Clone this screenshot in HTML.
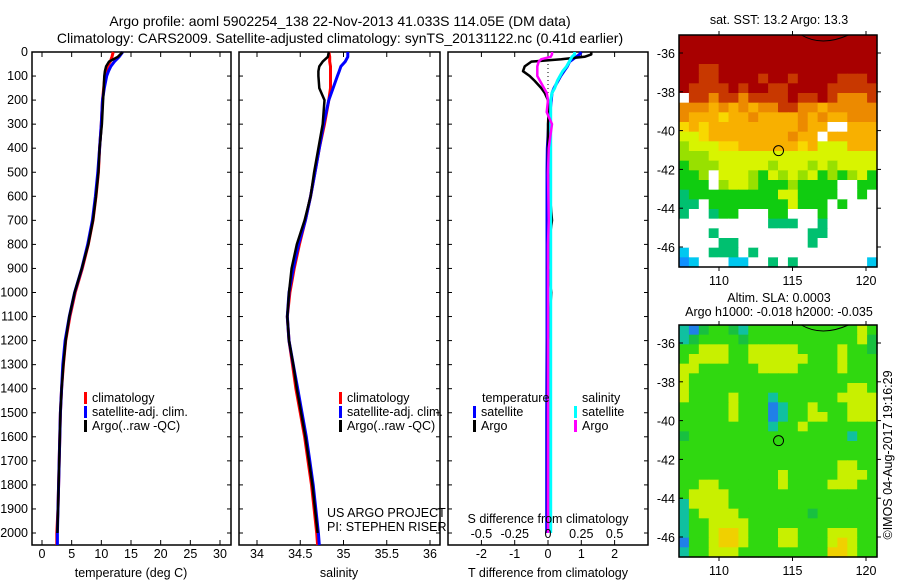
<!DOCTYPE html>
<html><head><meta charset="utf-8">
<style>
body{margin:0;background:#fff;}
svg{display:block;font-family:"Liberation Sans",sans-serif;}
text{font-size:12.5px;fill:#000;}
</style></head>
<body>
<svg id="chart" width="900" height="580" viewBox="0 0 900 580" xmlns="http://www.w3.org/2000/svg">
<rect width="900" height="580" fill="#fff"/>
<text x="340" y="26" text-anchor="middle" style="font-size:14px">Argo profile: aoml 5902254_138 22-Nov-2013 41.033S 114.05E (DM data)</text>
<text x="340" y="43" text-anchor="middle" style="font-size:14px">Climatology: CARS2009. Satellite-adjusted climatology: synTS_20131122.nc (0.41d earlier)</text>
<g id="g"></g>
</svg>
<script>
// ---------- data ----------
const depths = [0,20,40,60,80,100,150,200,300,400,500,600,700,800,900,1000,1100,1200,1300,1400,1500,1600,1700,1800,1900,2000,2050];
const tempClim = [12.0,11.8,11.5,11.0,10.8,10.6,10.4,10.2,10.0,9.7,9.5,9.1,8.6,7.8,6.8,5.6,4.7,4.0,3.6,3.3,3.1,3.0,2.9,2.8,2.7,2.5,2.5];
const tempSat = [13.6,13.0,12.2,11.6,11.2,10.9,10.5,10.2,10.0,9.7,9.4,9.0,8.5,7.7,6.7,5.5,4.6,3.9,3.5,3.3,3.1,3.0,2.9,2.8,2.7,2.6,2.6];
const tempArgo = [13.6,12.8,11.3,10.8,10.6,10.5,10.4,10.3,10.1,9.7,9.5,9.1,8.6,7.8,6.7,5.5,4.6,4.0,3.6,3.3,3.1,3.0,2.9,2.8,2.7,2.6];
const salClim = [34.83,34.84,34.84,34.85,34.85,34.85,34.85,34.83,34.78,34.72,34.67,34.62,34.56,34.49,34.43,34.38,34.35,34.37,34.41,34.45,34.50,34.55,34.59,34.63,34.66,34.69,34.70];
const salSat = [35.05,35.05,35.02,34.97,34.95,34.93,34.88,34.83,34.77,34.72,34.67,34.62,34.56,34.48,34.42,34.37,34.35,34.37,34.42,34.47,34.52,34.57,34.61,34.65,34.68,34.71,34.72];
const salArgo = [34.83,34.82,34.76,34.72,34.71,34.71,34.72,34.78,34.76,34.71,34.66,34.62,34.55,34.46,34.40,34.37,34.35,34.37,34.42,34.46,34.51,34.56,34.60,34.64,34.67,34.70];
const diffDepths = [0,10,20,30,40,60,80,100,120,150,170,200,250,300,400,500,700,800,900,1000,1200,1500,2000];
const tDiffSat = [1.0,0.95,0.85,0.75,0.65,0.58,0.48,0.38,0.3,0.18,0.12,0.1,0.06,0.02,-0.02,-0.03,-0.03,-0.03,-0.03,-0.03,-0.03,-0.04,-0.04];
const tDiffArgo = [1.3,1.3,1.1,0.4,-0.5,-0.7,-0.75,-0.55,-0.4,-0.2,-0.1,0,0.02,0,0,0,0.12,0.02,0,0.1,0,0,0];
const sDiffSat = [0.2,0.2,0.18,0.17,0.16,0.14,0.11,0.09,0.07,0.05,0.03,0.02,0.02,0.02,0.02,0.02,0.02,0.02,0.02,0.02,0.02,0.02,0.02];
const sDiffArgo = [0.03,0.03,0.02,-0.05,-0.07,-0.08,-0.08,-0.08,-0.06,-0.03,-0.01,0,-0.01,0.03,0.005,0,0.005,0,0,0,0,0,0];
const depthTicks = [0,100,200,300,400,500,600,700,800,900,1000,1100,1200,1300,1400,1500,1600,1700,1800,1900,2000];
const tempTicks = [0,5,10,15,20,25,30];
const salTicks = [34,34.5,35,35.5,36];
const salTickLabels = ["34","34.5","35","35.5","36"];
const tdTicks = [-2,-1,0,1,2];
const sdTicks = [-0.5,-0.25,0,0.25,0.5];
const sdTickLabels = ["-0.5","-0.25","0","0.25","0.5"];
const lonTicks = [110,115,120];
const latTicks = [-36,-38,-40,-42,-44,-46];
const sstGrid = [
"RRRRRRRRRRRRRRRRRRRR","RRRRRRRRRRRRRRRRRRRR","RRRRRRRRRRRRRRRRRRRR","RRrrRRRRRRRRRRRRRRRR",
"RRrrRRRRrRRrRRRRrrrR","RrrrrRrRRrrRRRRrrrrr","wrrorrorrrrRrrRrooor","oooOoOoOoorrooOooooo",
"oOOOyOOoOOOOoOoOOooo","yOyOOOOOOOOOoOOwwOOO","YYyOOOOOOOOoOOwOOOOO","gYYYyyOOOOOOyOYYYOOO",
"gggYYYYYYYYYYYYYYYYY","GgggYYYYYgYYYgYgYYYY","GGgwYYYgGYgYgYGgGgYG","GGGwgYYgGGGgGGGGwwGG",
"tGGGGGGGGGYYGGGGwwGw","ttwGGGGGGGGYGGGwGwww","twwtGGwwwGGwwwGwwwww","wwwwwwwwwtttwwtwwwww",
"wwwtwwwwwwwwwttwwwww","wwwwttwwwwwwwtwwwwww","bwwtttwtwwwwwwwwwwww","Bbwwwbbwwtwtwwwwwwwb"];
const slaGrid = [
"cbdGGdcGGGGGGGGGGGyG","cdGGGGdGGGGGGGGGGGyd","GGyyyGGyyyyyGGGGyGGd","GyyyyGGyyyyyyGGGyGGG",
"yyGGGGGGyyyyGGGGyGGG","yGGGGGGGGGGGGGGGGGGG","yGGGGGGGGGGGGGGGGyyG","yGGGGyGGGcGGGGGGyyyy",
"GGGGGyGGGbcGGyGGGyyy","GGGGGyGGGbcGGyyGGyyy","GGGGGGGGGcGGyGGGGGGG","dGGGGGGGGGGGGGGGGcGG",
"GGGGGGGGGGGGGGGGGGGG","GGGGGGGGGGGGGGGGGGGG","GGGGGGGGGGGGGGGGyyGG","GGGGGGGGGGyGGGGGyyyG",
"GGyyGGGGGGyGGGGyyyGG","GyyyyGGGGGGGGGGGGGGG","cyyyyGGGGGGGGGGGGGGG","cGyyyyGGGGGGGdGGGGGG",
"cGGyyyyGGGGGGGGGGGGG","cGGyYYyGGGyyGGGyyyGG","bGGyYYyGGGyyGGGyYyGG","cGGyyyGGGGGGGGGYYyGG"];
const argoLon = 114.05, argoLat = -41.033;

// ---------- helpers ----------
const NS="http://www.w3.org/2000/svg";
const G=document.getElementById('g');
function el(tag,attrs,parent){const e=document.createElementNS(NS,tag);for(const k in attrs)e.setAttribute(k,attrs[k]);(parent||G).appendChild(e);return e;}
function txt(x,y,s,anchor,parent){const t=el('text',{x:x,y:y,'text-anchor':anchor||'start'},parent);t.textContent=s;return t;}
const yD = d => 52 + d*0.2405;
const PT = {x0:32,x1:231}, PS={x0:239,x1:440}, PD={x0:448,x1:648};
const xT = v => 42 + v*(220-42)/30;
const xS = v => 257 + (v-34)*(430-257)/2;
const xTD = v => 548 + v*33.3;
const xSD = v => 548 + v*133.2;
const TOP=52, BOT=545;

function frame(p,name){
  const r=el('rect',{x:p.x0,y:TOP,width:p.x1-p.x0,height:BOT-TOP,fill:'none',stroke:'#000','stroke-width':1.5});
  
  
  depthTicks.forEach(d=>{
    el('line',{x1:p.x0,x2:p.x0+4,y1:yD(d),y2:yD(d),stroke:'#000'});
    el('line',{x1:p.x1,x2:p.x1-4,y1:yD(d),y2:yD(d),stroke:'#000'});
  });
}
function xticks(vals,fx,labels,name){
  vals.forEach((v,i)=>{
    const x=fx(v);
    el('line',{x1:x,x2:x,y1:BOT,y2:BOT-5,stroke:'#000'});
    el('line',{x1:x,x2:x,y1:TOP,y2:TOP+5,stroke:'#000'});
    const t=txt(x,558,labels?labels[i]:String(v),'middle');
    
    
  });
}
function profile(ds,vals,fx,color,name,w){
  let d='';
  vals.forEach((v,i)=>{const x=fx(v),y=yD(ds[i]);d+=(i?'L':'M')+x.toFixed(1)+' '+y.toFixed(1)+' ';});
  const p=el('path',{d:d,fill:'none',stroke:color,'stroke-width':w||3,'stroke-linejoin':'round'});
  
  
}
function legend(x,y,color,label,name){
  el('rect',{x:x,y:y-10,width:3,height:12,fill:color});
  const t=txt(x+8,y,label);
  
  
}

// panel 1 temperature
frame(PT,'temperature-panel');
depthTicks.forEach(d=>{const t=txt(28,yD(d)+4,String(d),'end');
  
  });
xticks(tempTicks,xT,null,'temperature-tick-label');
let t=txt(131,577,'temperature (deg C)','middle');


profile(depths,tempClim,xT,'#f00','temperature-climatology-line');
profile(depths,tempSat,xT,'#00f','temperature-satellite-line');
profile(depths.slice(0,tempArgo.length),tempArgo,xT,'#000','temperature-argo-line',2.5);
legend(84,402,'#f00','climatology','legend-climatology');
legend(84,416,'#00f','satellite-adj. clim.','legend-satellite');
legend(84,430,'#000','Argo(..raw -QC)','legend-argo');

// panel 2 salinity
frame(PS,'salinity-panel');
xticks(salTicks,xS,salTickLabels,'salinity-tick-label');
t=txt(339,577,'salinity','middle');


profile(depths,salClim,xS,'#f00','salinity-climatology-line');
profile(depths,salSat,xS,'#00f','salinity-satellite-line');
profile(depths.slice(0,salArgo.length),salArgo,xS,'#000','salinity-argo-line',2.5);
legend(339,402,'#f00','climatology','legend-climatology-2');
legend(339,416,'#00f','satellite-adj. clim.','legend-satellite-2');
legend(339,430,'#000','Argo(..raw -QC)','legend-argo-2');
t=txt(327,517,'US ARGO PROJECT');
t=txt(327,531,'PI: STEPHEN RISER');

// panel 3 differences
frame(PD,'difference-panel');
xticks(tdTicks,xTD,null,'t-diff-tick-label');
el('line',{x1:548,x2:548,y1:TOP,y2:170,stroke:'#000','stroke-dasharray':'1,3'});
profile(diffDepths,tDiffSat,xTD,'#00f','t-diff-satellite-line');
profile(diffDepths,tDiffArgo,xTD,'#000','t-diff-argo-line',2.5);
profile(diffDepths,sDiffSat,xSD,'#0ff','s-diff-satellite-line');
profile(diffDepths,sDiffArgo,xSD,'#f0f','s-diff-argo-line',2.5);
sdTicks.forEach((v,i)=>{const tt=txt(xSD(v),538,sdTickLabels[i],'middle');
  
  });
t=txt(548,523,'S difference from climatology','middle');
t=txt(548,577,'T difference from climatology','middle');
t=txt(482,402,'temperature');
t=txt(582,402,'salinity');
legend(473,416,'#00f','satellite','legend-t-satellite');
legend(473,430,'#000','Argo','legend-t-argo');
legend(574,416,'#0ff','satellite','legend-s-satellite');
legend(574,430,'#f0f','Argo','legend-s-argo');

// maps
const sstColors={R:'#a80000',r:'#c83800',o:'#ec8a00',O:'#f8b000',y:'#f8d800',Y:'#d8f400',g:'#98e000',G:'#10cc10',t:'#00c070',b:'#00c8f0',B:'#1090ff',w:'#ffffff'};
const slaColors={G:'#30d810',d:'#18c040',y:'#c8f000',Y:'#f0d000',c:'#10c0a0',b:'#2080e8'};
function map(top,grid,colors,name){
  const x0=679,x1=877,y1=top+232;
  const lonX=v=>719+(v-110)*14.7, latY=v=>top+18+(-36-v)*19.4;
  const g=el('g',{});
  
  
  const cw=(x1-x0)/grid[0].length, ch=(y1-top)/grid.length;
  grid.forEach((row,r)=>{[...row].forEach((c,k)=>{
    const cell=el('rect',{x:(x0+k*cw).toFixed(2),y:(top+r*ch).toFixed(2),width:(cw+0.6).toFixed(2),height:(ch+0.6).toFixed(2),fill:colors[c]},g);
    
    
  });});
  el('path',{d:`M${lonX(115.6)} ${top} Q${lonX(117)} ${top+12} ${lonX(118.8)} ${top}`,fill:'none',stroke:'#000'},g);
  el('circle',{cx:lonX(argoLon),cy:latY(argoLat),r:5,fill:'none',stroke:'#000'},g);
  el('rect',{x:x0,y:top,width:x1-x0,height:232,fill:'none',stroke:'#000','stroke-width':1.5},g);
  lonTicks.forEach(v=>{const x=lonX(v);
    el('line',{x1:x,x2:x,y1:top,y2:top-4,stroke:'#000'},g);
    el('line',{x1:x,x2:x,y1:y1,y2:y1+4,stroke:'#000'},g);
    const tt=txt(x,y1+18,String(v),'middle',g);
    
    });
  latTicks.forEach(v=>{const y=latY(v);
    el('line',{x1:x0,x2:x0+4,y1:y,y2:y,stroke:'#000'},g);
    el('line',{x1:x1,x2:x1+4,y1:y,y2:y,stroke:'#000'},g);
    const tt=txt(675,y+5,String(v),'end',g);
    
    });
}
map(35,sstGrid,sstColors,'sst-map');
map(325,slaGrid,slaColors,'sla-map');
t=txt(779,24,'sat. SST: 13.2 Argo: 13.3','middle');
t=txt(779,302,'Altim. SLA: 0.0003','middle');
t=txt(779,316,'Argo h1000: -0.018 h2000: -0.035','middle');
t=txt(0,0,'©IMOS 04-Aug-2017 19:16:29','middle');
t.setAttribute('transform','translate(892,455) rotate(-90)');


</script>
</body></html>
